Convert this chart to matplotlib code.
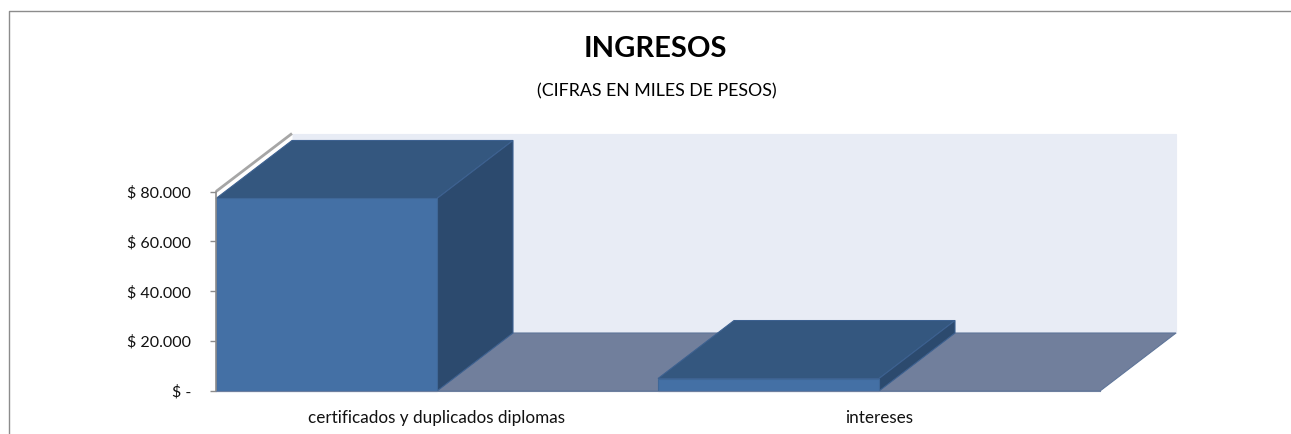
#! bin/python

import matplotlib
matplotlib.use('Agg')
import matplotlib.pyplot as plt
from matplotlib.patches import Polygon, Rectangle

plt.rcParams['font.family'] = ['Lato', 'DejaVu Sans']

categories = ['certificados y duplicados diplomas', 'intereses']
ingresos = [77200, 5000]
yticks = [0, 20000, 40000, 60000, 80000]
yticklabels = ['$ -', '$ 20.000', '$ 40.000', '$ 60.000', '$ 80.000']

W, H = 1291, 434
x0, x1 = 216, 1100   # front plane, pixels
y0, y1 = 391, 191.5
depth_px = (76, 58)
ymax = 80000
barw = 0.5

c_wall = '#e8ecf5'
c_floor = '#717f9c'
c_front = '#4470a5'
c_top = '#34577f'
c_side = '#2c4a6e'
c_axis = '#8c8c8c'

fig = plt.figure(figsize=(W/100, H/100), dpi=100)
ax = fig.add_axes([x0/W, 1-y0/H, (x1-x0)/W, (y0-y1)/H])
ax.set_xlim(0, len(categories))
ax.set_ylim(0, ymax)
ax.patch.set_visible(False)

dx = depth_px[0]/(x1-x0)*len(categories)
dy = depth_px[1]/(y0-y1)*ymax
nc = len(categories)

def poly(pts, fc, ec=None, z=1):
    ax.add_patch(Polygon(pts, closed=True, fc=fc, ec=ec or fc, lw=0.8, clip_on=False, zorder=z))

# walls
poly([(dx, dy), (nc+dx, dy), (nc+dx, ymax+dy), (dx, ymax+dy)], c_wall, z=0)
poly([(0, 0), (dx, dy), (nc+dx, dy), (nc, 0)], c_floor, ec='#5f7599', z=1)
poly([(0, ymax), (dx, ymax+dy), (dx, dy), (0, 0)], '#ffffff', z=1)
ax.plot([0, dx], [ymax, ymax+dy], color='#a6a6a6', lw=2, clip_on=False, zorder=3.5, solid_capstyle='butt')

# bars
for i, v in enumerate(ingresos):
    poly([(i, v), (i+dx, v+dy), (i+barw+dx, v+dy), (i+barw, v)], c_top, ec='#3d6190', z=3)
    poly([(i+barw, 0), (i+barw+dx, dy), (i+barw+dx, v+dy), (i+barw, v)], c_side, ec='#3d6190', z=3)
    ax.add_patch(Rectangle((i, 0), barw, v, fc=c_front, ec='#3f6797', lw=0.8, clip_on=False, zorder=4))

for s in ['top', 'right']:
    ax.spines[s].set_visible(False)
ax.spines['left'].set_color(c_axis)
ax.spines['left'].set_linewidth(1.2)
ax.spines['bottom'].set_color('#6d7f9f')
ax.spines['left'].set_zorder(5)
ax.spines['bottom'].set_zorder(5)
ax.set_yticks(yticks)
ax.set_yticklabels(yticklabels, fontsize=11.5, color='#111111')
ax.tick_params(axis='y', length=4, color=c_axis, pad=14, width=1)
ax.set_xticks([i+barw for i in range(nc)])
ax.set_xticklabels(categories, fontsize=12.3, color='#111111')
ax.tick_params(axis='x', length=0, pad=14)

# outer frame, open at right and bottom
fig.add_artist(plt.Line2D([8.5/W, 8.5/W, 1], [0, 1-10.5/H, 1-10.5/H], color='#8c8c8c', lw=1))

fig.text(655/W, 1-49/H, 'INGRESOS', fontsize=21, fontweight='bold', ha='center', va='center', color='black')
fig.text(657/W, 1-91.5/H, '(CIFRAS EN MILES DE PESOS)', fontsize=12.8, ha='center', va='center', color='black')

fig.savefig('out.png', dpi=100)
